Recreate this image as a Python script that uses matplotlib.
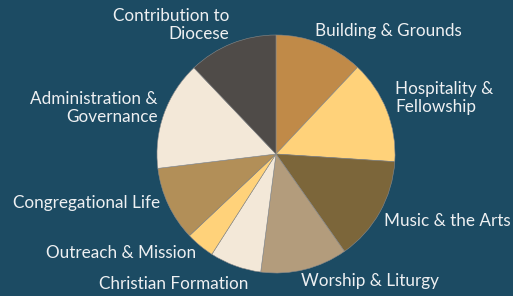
import matplotlib
matplotlib.use("Agg")
import matplotlib.pyplot as plt

categories = ["Building & Grounds", "Hospitality &\nFellowship", "Music & the Arts",
              "Worship & Liturgy", "Christian Formation", "Outreach & Mission",
              "Congregational Life", "Administration &\nGovernance", "Contribution to\nDiocese"]
values = [12.0, 14.0, 14.2, 11.8, 7.0, 3.9, 10.1, 14.8, 12.1]
colors = ["#C08A48", "#FFD27A", "#7C663A", "#B39C7C", "#F3E8D8",
          "#FFD27A", "#B28F58", "#F3E8D8", "#4F4B48"]

W, H = 513, 296
bg = "#1C4B63"
fig = plt.figure(figsize=(W / 100, H / 100), dpi=100, facecolor=bg)
cx, cy, r = 276, 154, 119
ax = fig.add_axes([(cx - r) / W, (H - cy - r) / H, 2 * r / W, 2 * r / H])
ax.set_facecolor(bg)
ax.pie(values, colors=colors, startangle=90, counterclock=False, radius=1,
       wedgeprops=dict(edgecolor="#8a8a8a", linewidth=0.4))
ax.set_xlim(-1, 1)
ax.set_ylim(-1, 1)
ax.set_aspect("equal")
ax.axis("off")

# label anchor positions in pixels (x, y, ha)
pos = [(315, 31, "left"), (395, 98, "left"), (384, 221, "left"),
       (301, 281, "left"), (248, 284, "right"), (196, 253, "right"),
       (160, 203, "right"), (158, 108, "right"), (229, 25, "right")]
for lab, (px, py, ha) in zip(categories, pos):
    fig.text(px / W, 1 - py / H, lab, ha=ha, va="center", color="#EEF0F2",
             fontsize=12.3, family="Lato", linespacing=1.18,
             multialignment=ha)

fig.savefig("out.png", dpi=100, facecolor=bg)
